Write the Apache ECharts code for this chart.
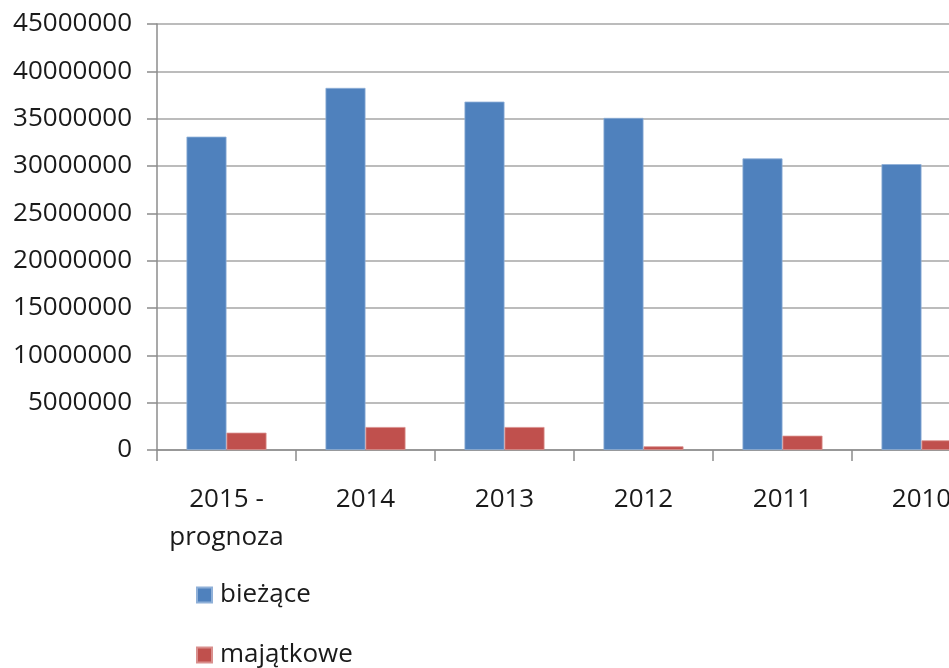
<!DOCTYPE html>
<html>
<head>
<meta charset="utf-8">
<script src="https://cdn.jsdelivr.net/npm/echarts@6/dist/echarts.min.js"></script>
<style>
html,body{margin:0;padding:0;background:#fff;overflow:hidden;width:949px;height:668px;}
#chart{width:991px;height:668px;}
</style>
</head>
<body>
<div id="chart"></div>
<script>
const categories = ['2015 -\nprognoza', '2014', '2013', '2012', '2011', '2010'];
const biezace = [33100000, 38250000, 36800000, 35080000, 30800000, 30200000];
const majatkowe = [1830000, 2430000, 2430000, 390000, 1510000, 1020000];
const seriesNames = ['bieżące', 'majątkowe'];

const FONT = '"Open Sans", "Noto Sans", sans-serif';
const legendText = {fontFamily: FONT, fontSize: 26, color: '#1a1a1a', padding: [0,0,0,3]};
const chart = echarts.init(document.getElementById('chart'), null, {renderer: 'canvas'});
chart.setOption({
  animation: false,
  backgroundColor: '#ffffff',
  textStyle: {fontFamily: FONT},
  grid: {left: 157, top: 24, bottom: 218, right: 0, containLabel: false, outerBoundsMode: 'none'},
  legend: [
    {
      orient: 'vertical', left: 191, top: 577, icon: 'rect',
      itemWidth: 15, itemHeight: 15, data: [seriesNames[0]], textStyle: legendText
    },
    {
      orient: 'vertical', left: 191, top: 637, icon: 'rect',
      itemWidth: 15, itemHeight: 15, data: [seriesNames[1]], textStyle: legendText
    }
  ],
  xAxis: {
    type: 'category',
    data: categories,
    axisLine: {show: true, lineStyle: {color: '#8c8c8c', width: 1.5}},
    axisTick: {show: true, length: 11, alignWithLabel: false, lineStyle: {color: '#8c8c8c', width: 1.5}},
    axisLabel: {fontFamily: FONT, fontSize: 26, color: '#1a1a1a', margin: 31, lineHeight: 38, interval: 0}
  },
  yAxis: {
    type: 'value',
    min: 0,
    max: 45000000,
    interval: 5000000,
    axisLine: {show: true, lineStyle: {color: '#8c8c8c', width: 1.5}},
    axisTick: {show: true, length: 10, lineStyle: {color: '#8c8c8c', width: 1.5}},
    splitLine: {show: true, lineStyle: {color: '#a6a6a6', width: 1.5}},
    axisLabel: {fontFamily: FONT, fontSize: 26, color: '#1a1a1a', margin: 25, formatter: v => String(v)}
  },
  series: [
    {
      name: seriesNames[0],
      type: 'bar',
      data: biezace,
      barWidth: 40,
      barGap: '0%',
      itemStyle: {color: '#4f81bd', borderColor: '#8fb0d8', borderWidth: 0.8}
    },
    {
      name: seriesNames[1],
      type: 'bar',
      data: majatkowe,
      barWidth: 40,
      barGap: '0%',
      itemStyle: {color: '#c0504d', borderColor: '#d98f8d', borderWidth: 0.8}
    }
  ]
});
</script>
</body>
</html>
